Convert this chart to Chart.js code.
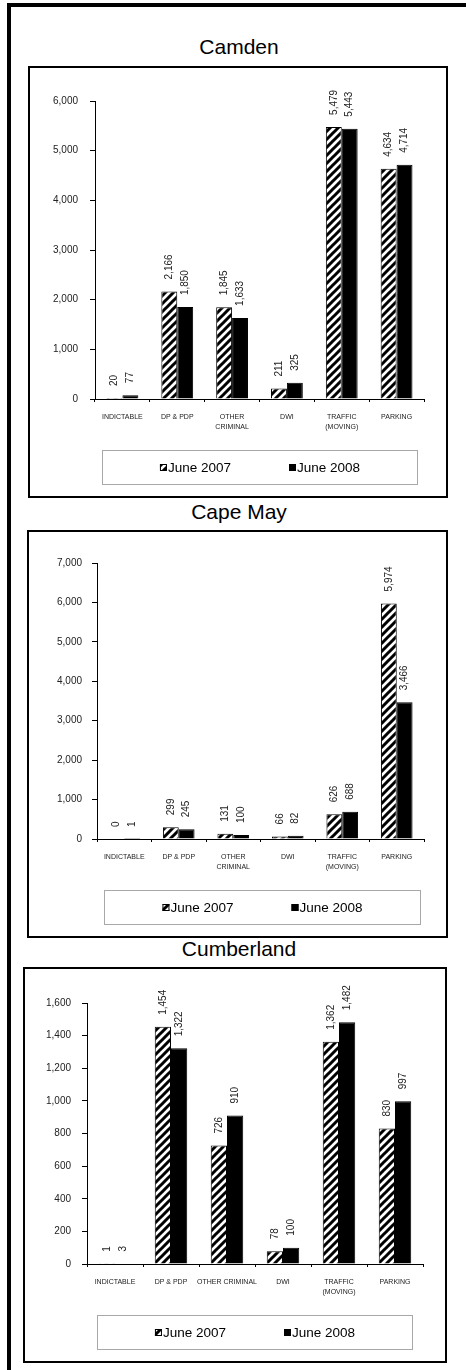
<!DOCTYPE html>
<html>
<head>
<meta charset="utf-8">
<script src="https://cdn.jsdelivr.net/npm/chart.js@4.4.1/dist/chart.umd.min.js"></script>
<style>
  body { margin: 0; background: #fff; width: 466px; height: 1370px; position: relative; overflow: hidden;
         font-family: Arial, "Liberation Sans", sans-serif; }
  .edge { position: absolute; background: #000; }
  .title { position: absolute; left: 119px; width: 240px; text-align: center; font-size: 21px; line-height: 20px; color: #000; }
  .box { position: absolute; border: 2px solid #000; box-sizing: border-box; background: #fff; }
  .box canvas { position: absolute; left: 0; top: 0; }
</style>
</head>
<body>
<div class="edge" style="left:7px;top:3px;width:459px;height:4px"></div>
<div class="edge" style="left:7px;top:3px;width:4px;height:1367px"></div>

<div class="title" style="top:37px">Camden</div>
<div class="box" id="box-camden"><canvas id="camden"></canvas></div>

<div class="title" style="top:502px">Cape May</div>
<div class="box" id="box-capemay"><canvas id="capemay"></canvas></div>

<div class="title" style="top:939px">Cumberland</div>
<div class="box" id="box-cumberland"><canvas id="cumberland"></canvas></div>

<script>
// ---- data ----
const categories = ['INDICTABLE', 'DP & PDP', ['OTHER', 'CRIMINAL'], 'DWI', ['TRAFFIC', '(MOVING)'], 'PARKING'];
const categoriesCumberland = ['INDICTABLE', 'DP & PDP', 'OTHER CRIMINAL', 'DWI', ['TRAFFIC', '(MOVING)'], 'PARKING'];
const seriesLabels = ['June 2007', 'June 2008'];

const camden2007 = [20, 2166, 1845, 211, 5479, 4634];
const camden2008 = [77, 1850, 1633, 325, 5443, 4714];
const camdenYMax = 6000, camdenYStep = 1000;

const capeMay2007 = [0, 299, 131, 66, 626, 5974];
const capeMay2008 = [1, 245, 100, 82, 688, 3466];
const capeMayYMax = 7000, capeMayYStep = 1000;

const cumberland2007 = [1, 1454, 726, 78, 1362, 830];
const cumberland2008 = [3, 1322, 910, 100, 1482, 997];
const cumberlandYMax = 1600, cumberlandYStep = 200;

// ---- layout (page pixels) ----
const panels = [
  { id: 'camden', labels: categories, a: camden2007, b: camden2008, max: camdenYMax, step: camdenYStep,
    box: { x: 28, y: 66, w: 420, h: 432 }, area: { l: 95, t: 101, r: 424, b: 399 },
    legend: { x: 102, y: 450, w: 316, h: 35 }, yPad: 12 },
  { id: 'capemay', labels: categories, a: capeMay2007, b: capeMay2008, max: capeMayYMax, step: capeMayYStep,
    box: { x: 27, y: 530, w: 421, h: 408 }, area: { l: 97, t: 563, r: 424, b: 839 },
    legend: { x: 104, y: 890, w: 317, h: 35 }, yPad: 10 },
  { id: 'cumberland', labels: categoriesCumberland, a: cumberland2007, b: cumberland2008, max: cumberlandYMax, step: cumberlandYStep,
    box: { x: 23, y: 967, w: 424, h: 396 }, area: { l: 87, t: 1003, r: 423, b: 1264 },
    legend: { x: 97, y: 1315, w: 316, h: 35 }, yPad: 11 }
];

const FONT = 'Arial, "Liberation Sans", sans-serif';
Chart.defaults.font.family = FONT;
Chart.defaults.color = '#222';

// diagonal "/" hatch used for June 2007
function makeHatch(ctx) {
  const tile = document.createElement('canvas');
  tile.width = 8; tile.height = 8;
  const g = tile.getContext('2d');
  g.fillStyle = '#fff';
  g.fillRect(0, 0, 8, 8);
  g.strokeStyle = '#000';
  g.lineWidth = 3;
  g.beginPath();
  g.moveTo(-2, 10); g.lineTo(10, -2);
  g.moveTo(-6, 6); g.lineTo(6, -6);
  g.moveTo(2, 14); g.lineTo(14, 2);
  g.stroke();
  return ctx.createPattern(tile, 'repeat');
}

// rotated value labels above each bar
const valueLabels = {
  id: 'valueLabels',
  afterDatasetsDraw(chart) {
    const { ctx } = chart;
    ctx.save();
    ctx.font = '10px ' + FONT;
    ctx.fillStyle = '#222';
    ctx.textAlign = 'left';
    ctx.textBaseline = 'middle';
    chart.data.datasets.forEach((ds, i) => {
      chart.getDatasetMeta(i).data.forEach((bar, j) => {
        ctx.save();
        ctx.translate(bar.x, bar.y - 12);
        ctx.rotate(-Math.PI / 2);
        ctx.fillText(ds.data[j].toLocaleString('en-US'), 0, 0);
        ctx.restore();
      });
    });
    ctx.restore();
  }
};

// framed legend under the plot
const boxLegend = {
  id: 'boxLegend',
  afterDraw(chart, args, opts) {
    const { ctx } = chart;
    const f = opts.frame;
    ctx.save();
    ctx.strokeStyle = '#a8a8a8';
    ctx.lineWidth = 1;
    ctx.strokeRect(f.x + 0.5, f.y + 0.5, f.w - 1, f.h - 1);
    ctx.font = '13.5px ' + FONT;
    ctx.textBaseline = 'middle';
    const sq = 7, gap = 1, spacing = 58;
    const items = chart.data.datasets.map(ds => ({ ds, w: sq + gap + ctx.measureText(ds.label).width }));
    const total = items.reduce((s, it) => s + it.w, 0) + spacing * (items.length - 1);
    let x = f.x + (f.w - total) / 2;
    const cy = f.y + f.h / 2;
    items.forEach(it => {
      ctx.fillStyle = it.ds.backgroundColor;
      ctx.fillRect(x, cy - sq / 2, sq, sq);
      ctx.strokeStyle = '#000';
      ctx.strokeRect(x + 0.5, cy - sq / 2 + 0.5, sq - 1, sq - 1);
      ctx.fillStyle = '#000';
      ctx.fillText(it.ds.label, x + sq + gap, cy + 1);
      x += it.w + spacing;
    });
    ctx.restore();
  }
};

const X_AXIS_H = 34;

panels.forEach(p => {
  const boxEl = document.getElementById('box-' + p.id);
  boxEl.style.left = p.box.x + 'px';
  boxEl.style.top = p.box.y + 'px';
  boxEl.style.width = p.box.w + 'px';
  boxEl.style.height = p.box.h + 'px';

  // canvas sits inside the 2px border
  const cx = p.box.x + 2, cy = p.box.y + 2;
  const cw = p.box.w - 4, ch = p.box.h - 4;
  const canvas = document.getElementById(p.id);
  canvas.width = cw; canvas.height = ch;
  canvas.style.width = cw + 'px'; canvas.style.height = ch + 'px';
  const ctx = canvas.getContext('2d');
  const hatch = makeHatch(ctx);

  new Chart(ctx, {
    type: 'bar',
    data: {
      labels: p.labels,
      datasets: [
        { label: seriesLabels[0], data: p.a, backgroundColor: hatch, borderColor: '#000', borderWidth: 1 },
        { label: seriesLabels[1], data: p.b, backgroundColor: '#000', borderColor: '#000', borderWidth: 1 }
      ]
    },
    options: {
      responsive: false,
      animation: false,
      devicePixelRatio: 1,
      layout: {
        padding: {
          left: 0,
          top: p.area.t - cy,
          right: cx + cw - p.area.r,
          bottom: cy + ch - p.area.b - X_AXIS_H
        }
      },
      datasets: { bar: { categoryPercentage: 0.58, barPercentage: 1 } },
      plugins: {
        legend: { display: false },
        tooltip: { enabled: false },
        boxLegend: { frame: { x: p.legend.x - cx, y: p.legend.y - cy, w: p.legend.w, h: p.legend.h } }
      },
      scales: {
        x: {
          afterFit: s => { s.height = X_AXIS_H; },
          grid: { offset: true, drawOnChartArea: false, drawTicks: true, tickLength: 3, color: '#000' },
          border: { display: true, color: '#000', width: 1 },
          ticks: { font: { size: 7, lineHeight: 1.3 }, color: '#222', padding: 11, maxRotation: 0, autoSkip: false }
        },
        y: {
          min: 0,
          max: p.max,
          afterFit: s => { s.width = p.area.l - cx; },
          grid: { drawOnChartArea: false, drawTicks: true, tickLength: 5, color: '#000' },
          border: { display: true, color: '#000', width: 1 },
          ticks: {
            stepSize: p.step,
            font: { size: 10 },
            color: '#222',
            padding: p.yPad,
            callback: v => v.toLocaleString('en-US')
          }
        }
      }
    },
    plugins: [valueLabels, boxLegend]
  });
});
</script>
</body>
</html>
